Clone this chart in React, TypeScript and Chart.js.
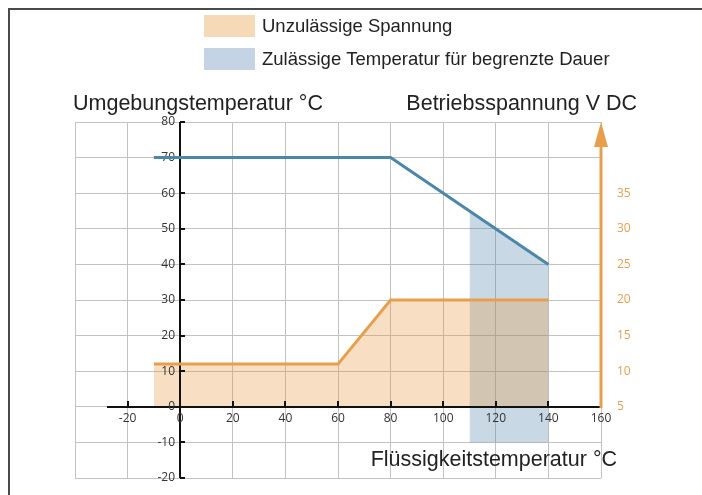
import React, { useEffect, useRef } from 'react';
import { Chart, registerables } from 'chart.js';

Chart.register(...registerables);

// ---- Data ----
const ambientTempX = [-10, 80, 140];
const ambientTempY = [70, 70, 40];

const voltageX = [-10, 60, 80, 140];
const voltageV = [11, 11, 20, 20];

const limitedX = [110, 140];
const limitedTopY = [55, 40];
const limitedBottomY = -10;

const xTickLabels = [-20, 0, 20, 40, 60, 80, 100, 120, 140, 160];
const yTickLabels = [80, 70, 60, 50, 40, 30, 20, 10, 0, -10, -20];
const voltageTickLabels = [35, 30, 25, 20, 15, 10, 5];

const legendLabels = ['Unzulässige Spannung', 'Zulässige Temperatur für begrenzte Dauer'];
const titleAmbient = 'Umgebungstemperatur °C';
const titleVoltage = 'Betriebsspannung V DC';
const titleLiquid = 'Flüssigkeitstemperatur °C';

const X_MIN = -40;
const X_MAX = 160;
const Y_MIN = -20;
const Y_MAX = 80;
const V_MIN = -5;
const V_MAX = 45;
const V_BASE = 5;
const X_AXIS_START = -28;

const ORANGE = '#e89f4c';
const BLUE = '#4a87ab';
const ORANGE_FILL = 'rgba(232,150,60,0.3)';
const BLUE_FILL = 'rgba(74,130,170,0.3)';
const LEGEND_ORANGE = '#f6d9b7';
const LEGEND_BLUE = '#c4d4e5';
const TEXT = '#222';
const TICK_TEXT = '#333';
const SANS = '"Liberation Sans", Arial, sans-serif';
const TICK_FONT = '12px "Open Sans", "Liberation Sans", sans-serif';

const axesPlugin = {
  id: 'customAxes',
  beforeDatasetsDraw(chart: any) {
    const { ctx, scales } = chart;
    const x = scales.x;
    const y = scales.y;
    const y2 = scales.y2;
    const x0 = Math.round(x.getPixelForValue(0));
    const y0 = Math.round(y.getPixelForValue(0));
    const xEnd = Math.round(x.getPixelForValue(X_MAX));
    const yTop = Math.round(y.getPixelForValue(Y_MAX));
    const yBot = Math.round(y.getPixelForValue(Y_MIN));
    ctx.save();

    // x axis (black)
    ctx.strokeStyle = '#111';
    ctx.lineWidth = 2;
    ctx.beginPath();
    ctx.moveTo(Math.round(x.getPixelForValue(X_AXIS_START)), y0);
    ctx.lineTo(xEnd, y0);
    ctx.stroke();
    xTickLabels.forEach((v) => {
      if (v === 0 || v === X_MAX) return;
      const px = Math.round(x.getPixelForValue(v));
      ctx.beginPath();
      ctx.moveTo(px, y0);
      ctx.lineTo(px, y0 - 6);
      ctx.stroke();
    });

    // y axis (black)
    ctx.beginPath();
    ctx.moveTo(x0, yTop);
    ctx.lineTo(x0, yBot);
    ctx.stroke();
    yTickLabels.forEach((v) => {
      if (v === 0) return;
      const py = Math.round(y.getPixelForValue(v));
      ctx.beginPath();
      ctx.moveTo(x0, py);
      ctx.lineTo(x0 + 5, py);
      ctx.stroke();
    });

    // tick labels
    ctx.font = TICK_FONT;
    ctx.fillStyle = TICK_TEXT;
    ctx.textAlign = 'center';
    ctx.textBaseline = 'middle';
    xTickLabels.forEach((v) => {
      ctx.fillText(String(v), x.getPixelForValue(v), y0 + 12);
    });
    ctx.textAlign = 'right';
    yTickLabels.forEach((v) => {
      ctx.fillText(String(v), x0 - 5, y.getPixelForValue(v));
    });

    // right voltage axis (orange, with arrow)
    ctx.strokeStyle = ORANGE;
    ctx.fillStyle = ORANGE;
    ctx.lineWidth = 3;
    ctx.beginPath();
    ctx.moveTo(xEnd, y0 + 1);
    ctx.lineTo(xEnd, yTop + 20);
    ctx.stroke();
    ctx.beginPath();
    ctx.moveTo(xEnd, yTop);
    ctx.lineTo(xEnd - 7, yTop + 25);
    ctx.lineTo(xEnd + 7, yTop + 25);
    ctx.closePath();
    ctx.fill();
    ctx.textAlign = 'left';
    voltageTickLabels.forEach((v) => {
      ctx.fillText(String(v), xEnd + 16, y2.getPixelForValue(v));
    });

    // titles
    ctx.fillStyle = TEXT;
    ctx.font = '21.5px ' + SANS;
    ctx.textBaseline = 'alphabetic';
    ctx.textAlign = 'left';
    ctx.fillText(titleAmbient, x.left - 2, yTop - 12);
    ctx.textAlign = 'right';
    ctx.fillText(titleVoltage, xEnd + 36, yTop - 12);
    ctx.fillText(titleLiquid, xEnd + 16, yBot - 12);

    // legend
    const legendColors = [LEGEND_ORANGE, LEGEND_BLUE];
    ctx.font = '18.5px ' + SANS;
    ctx.textAlign = 'left';
    ctx.textBaseline = 'middle';
    legendLabels.forEach((label, i) => {
      const top = 15 + i * 33;
      ctx.fillStyle = legendColors[i];
      ctx.fillRect(204, top, 51, 22);
      ctx.fillStyle = TEXT;
      ctx.fillText(label, 262, top + 12);
    });

    ctx.restore();
  },
};

export default function App() {
  const canvasRef = useRef<HTMLCanvasElement | null>(null);

  useEffect(() => {
    const canvas = canvasRef.current;
    if (!canvas) return;

    const toPoints = (xs: number[], ys: number[]) => xs.map((xv, i) => ({ x: xv, y: ys[i] }));

    const chart = new Chart(canvas, {
      type: 'line',
      data: {
        datasets: [
          {
            label: legendLabels[0],
            data: toPoints(voltageX, voltageV),
            yAxisID: 'y2',
            borderWidth: 0,
            borderColor: 'rgba(0,0,0,0)',
            backgroundColor: ORANGE_FILL,
            fill: { value: V_BASE },
            pointRadius: 0,
            tension: 0,
          },
          {
            label: legendLabels[1],
            data: toPoints(limitedX, limitedTopY),
            yAxisID: 'y',
            borderWidth: 0,
            borderColor: 'rgba(0,0,0,0)',
            backgroundColor: BLUE_FILL,
            fill: { value: limitedBottomY },
            pointRadius: 0,
            tension: 0,
          },
          {
            label: 'Betriebsspannung',
            data: toPoints(voltageX, voltageV),
            yAxisID: 'y2',
            borderWidth: 3,
            borderColor: ORANGE,
            fill: false,
            pointRadius: 0,
            tension: 0,
          },
          {
            label: 'Umgebungstemperatur',
            data: toPoints(ambientTempX, ambientTempY),
            yAxisID: 'y',
            borderWidth: 3,
            borderColor: BLUE,
            fill: false,
            pointRadius: 0,
            tension: 0,
          },
        ],
      },
      options: {
        responsive: false,
        animation: false,
        devicePixelRatio: 1,
        layout: { padding: { left: 75, right: 101, top: 122, bottom: 17 } },
        plugins: {
          legend: { display: false },
          tooltip: { enabled: false },
          filler: { drawTime: 'beforeDatasetsDraw' },
        },
        scales: {
          x: {
            type: 'linear',
            min: X_MIN,
            max: X_MAX,
            ticks: { stepSize: 20, display: false },
            grid: { color: '#c2c2c2', lineWidth: 1, drawTicks: false },
            border: { display: false },
          },
          y: {
            type: 'linear',
            min: Y_MIN,
            max: Y_MAX,
            ticks: { stepSize: 10, display: false },
            grid: { color: '#c2c2c2', lineWidth: 1, drawTicks: false },
            border: { display: false },
          },
          y2: {
            type: 'linear',
            display: false,
            min: V_MIN,
            max: V_MAX,
          },
        },
      },
      plugins: [axesPlugin],
    } as any);

    return () => chart.destroy();
  }, []);

  return (
    <div>
      <canvas
        ref={canvasRef}
        width={702}
        height={495}
        style={{ position: 'absolute', left: 0, top: 0, width: 702, height: 495, display: 'block' }}
      />
      <div
        style={{
          position: 'absolute',
          left: 8,
          top: 8,
          width: 694,
          height: 487,
          boxSizing: 'border-box',
          borderTop: '2px solid #4a4a4a',
          borderLeft: '2px solid #4a4a4a',
          pointerEvents: 'none',
        }}
      />
    </div>
  );
}
